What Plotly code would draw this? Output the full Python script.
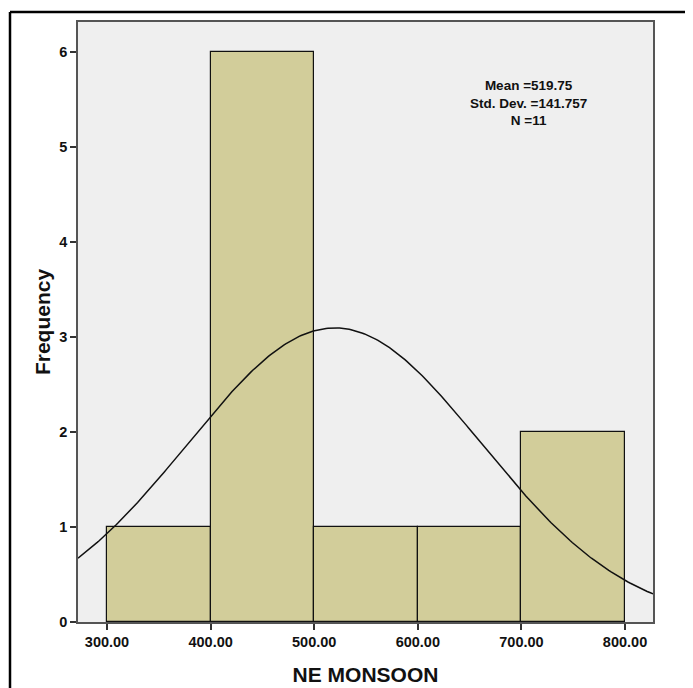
import numpy as np
import plotly.graph_objects as go

bin_left = [300, 400, 500, 600, 700]
bin_width = 100
frequency = [1, 6, 1, 1, 2]
mean_val = 519.75
std_val = 141.757
n_val = 11
x_ticks = [300, 400, 500, 600, 700, 800]
x_tick_labels = ["300.00", "400.00", "500.00", "600.00", "700.00", "800.00"]
y_ticks = [0, 1, 2, 3, 4, 5, 6]
stat_lines = [f"Mean ={mean_val}", f"Std. Dev. ={std_val}", f"N ={n_val}"]

# page offset of 8px (body margin) is accounted for in the margins
W, H = 677, 680
L, T, PW, PH = 70, 14, 575, 600

fig = go.Figure()
fig.add_trace(go.Bar(
    x=[b + bin_width / 2 for b in bin_left], y=frequency, width=bin_width,
    marker=dict(color="#d2cd9a", line=dict(color="#111111", width=1.2)),
    showlegend=False, hoverinfo="skip"))

xs = np.linspace(272, 827, 300)
ys = n_val * bin_width * np.exp(-0.5 * ((xs - mean_val) / std_val) ** 2) / (std_val * np.sqrt(2 * np.pi))
fig.add_trace(go.Scatter(x=xs, y=ys, mode="lines", line=dict(color="#111111", width=1.5),
                         showlegend=False, hoverinfo="skip"))

tick_font = dict(family="Liberation Sans", size=14.5, color="#111111", weight="bold")
title_font = dict(family="Liberation Sans", size=21, color="#111111", weight="bold")
fig.update_layout(
    width=W, height=H,
    margin=dict(l=L, r=W - L - PW, t=T, b=H - T - PH, autoexpand=False),
    paper_bgcolor="white", plot_bgcolor="#efefef",
    bargap=0,
    xaxis=dict(range=[272, 827], tickvals=x_ticks, ticktext=x_tick_labels,
               ticks="outside", ticklen=6, tickcolor="#333333", tickwidth=1.5,
               showline=True, linecolor="#555555", linewidth=1.5, mirror=True,
               showgrid=False, zeroline=False, automargin=False,
               tickfont=tick_font,
               title=dict(text="NE MONSOON", font=title_font, standoff=18)),
    yaxis=dict(range=[0, 6.316], tickvals=y_ticks,
               ticks="outside", ticklen=6, tickcolor="#333333", tickwidth=1.5,
               showline=True, linecolor="#555555", linewidth=1.5, mirror=True,
               showgrid=False, zeroline=False, automargin=False,
               tickfont=tick_font,
               title=dict(text="Frequency", font=title_font, standoff=3)),
    font=dict(family="Liberation Sans"),
)

fig.add_annotation(
    x=(520 - L) / PW, y=1 - (95 - T) / PH, xref="paper", yref="paper",
    showarrow=False, text="<br>".join(stat_lines), xanchor="center", yanchor="middle",
    align="center",
    font=dict(family="Liberation Sans", size=13.5, color="#111111", weight="bold"))

# outer frame: only left and top edges are visible in the reference
x_left = -(L - 2) / PW
y_top = 1 + (T - 4) / PH
fig.add_shape(type="line", xref="paper", yref="paper", x0=x_left, y0=-0.5, x1=x_left, y1=y_top,
              line=dict(color="black", width=2.5), layer="above")
fig.add_shape(type="line", xref="paper", yref="paper", x0=x_left, y0=y_top, x1=1.5, y1=y_top,
              line=dict(color="black", width=2.5), layer="above")

fig.write_html("out.html")
